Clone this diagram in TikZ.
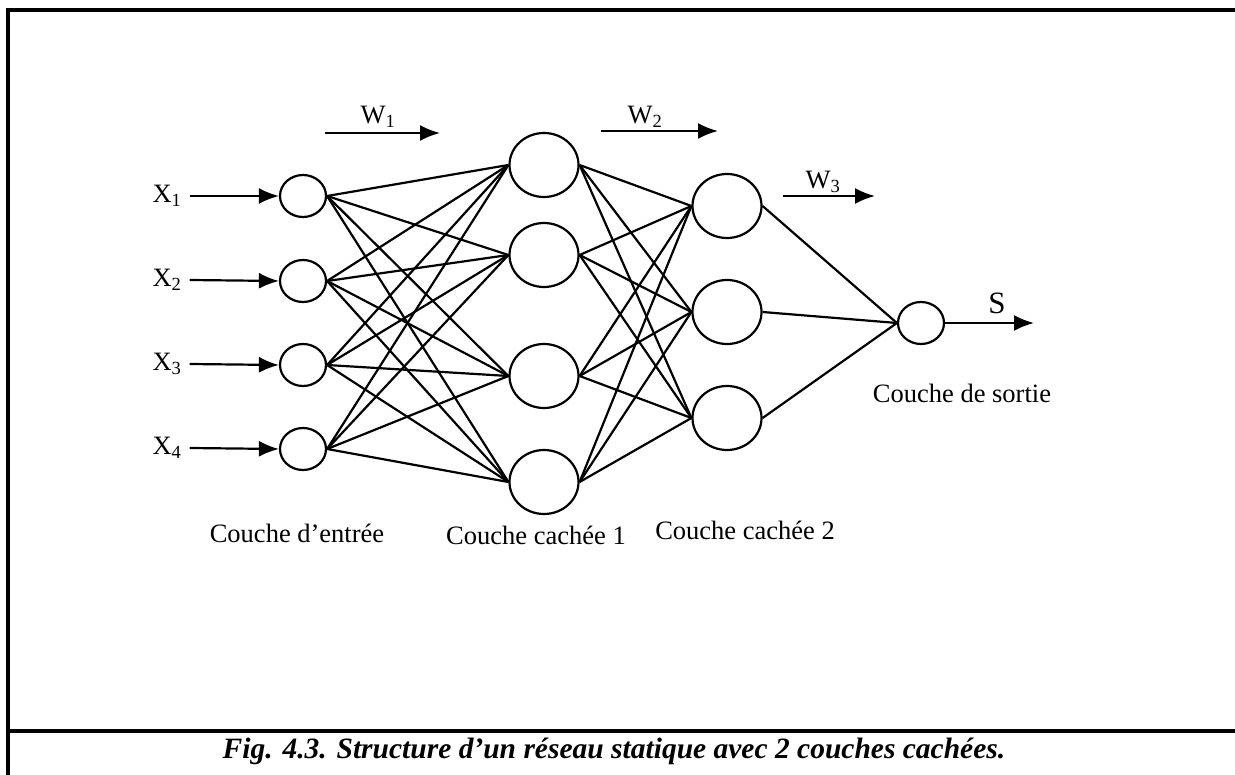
\documentclass[tikz,border=0pt]{standalone}
\usepackage{fontspec}
\setmainfont{Liberation Serif}
\usetikzlibrary{arrows.meta, shapes}
\tikzset{
  unit/.style={ellipse, draw, line width=2.2pt, minimum width=46pt, minimum height=42pt, inner sep=0pt},
  bigunit/.style={ellipse, draw, line width=2.2pt, minimum width=69pt, minimum height=64pt, inner sep=0pt},
  lbl/.style={font=\fontsize{26.5}{30}\selectfont, inner sep=8pt},
  link/.style={line width=2.2pt},
  flow/.style={line width=2.2pt, -{Latex[length=20pt, width=16pt]}},
  frame/.style={line width=3.5pt},
}

\begin{document}
\begin{tikzpicture}[x=1pt, y=-1pt]
\useasboundingbox (0,0) rectangle (1235,775);
% page frame and caption rule
\draw[frame] (1235,10) -- (8,10) -- (8,775);
\draw[frame] (8,731) -- (1235,731);

% input layer
\node[unit] (in1) at (303,196) {};
\node[unit] (in2) at (303,281) {};
\node[unit] (in3) at (303,365) {};
\node[unit] (in4) at (303,449) {};
% hidden layer 1
\node[bigunit] (ha1) at (544,165) {};
\node[bigunit] (ha2) at (544,255) {};
\node[bigunit] (ha3) at (544,376) {};
\node[bigunit] (ha4) at (544,482) {};
% hidden layer 2
\node[bigunit] (hb1) at (727,206) {};
\node[bigunit] (hb2) at (727,312) {};
\node[bigunit] (hb3) at (727,418) {};
% output
\node[unit] (out) at (921,323) {};

% inputs
\foreach \i in {1,...,4} {
  \node[lbl] (x\i) at (167,{112+84*\i}) {X\textsubscript{\i}};
  \draw[flow] (x\i.east) -- (in\i.west);
}

% weights
\foreach \i in {1,...,4}
  \foreach \j in {1,...,4}
    \draw[link] (in\i.east) -- (ha\j.west);
\foreach \i in {1,...,4}
  \foreach \j in {1,...,3}
    \draw[link] (ha\i.east) -- (hb\j.west);
\foreach \j in {1,...,3}
  \draw[link] (hb\j.east) -- (out.west);

% output arrow
\coordinate (send) at (1034,323);
\draw[flow] (out.east) -- (send);
\node[lbl, font=\fontsize{31}{34}\selectfont] (s) at (997,303) {S};

% weight arrows
\coordinate (w1a) at (325,133); \coordinate (w1b) at (440,133);
\coordinate (w2a) at (601,131); \coordinate (w2b) at (718,131);
\coordinate (w3a) at (783,196); \coordinate (w3b) at (875,196);
\draw[flow] (w1a) -- (w1b);
\draw[flow] (w2a) -- (w2b);
\draw[flow] (w3a) -- (w3b);
\node[lbl] (w1) at (378,117) {W\textsubscript{1}};
\node[lbl] (w2) at (645,117) {W\textsubscript{2}};
\node[lbl] (w3) at (823,182) {W\textsubscript{3}};

% layer names
\node[lbl] (lin)  at (297,533) {Couche d’entrée};
\node[lbl] (lha)  at (536,535) {Couche cachée 1};
\node[lbl] (lhb)  at (745,530) {Couche cachée 2};
\node[lbl] (lout) at (962,393) {Couche de sortie};

% caption
\node[font=\fontsize{29.5}{32}\selectfont\bfseries\itshape] (cap) at (614,751)
  {Fig. 4.3. Structure d’un réseau statique avec 2 couches cachées.};
\end{tikzpicture}
\end{document}
